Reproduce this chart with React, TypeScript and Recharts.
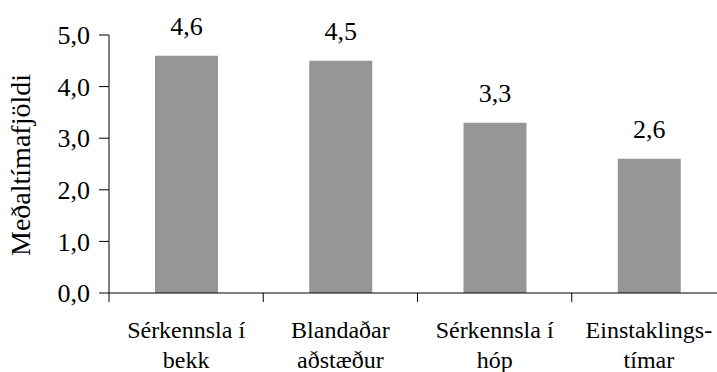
import { BarChart, Bar, XAxis, YAxis, LabelList } from "recharts";

const categoryLines = [
  ["Sérkennsla í", "bekk"],
  ["Blandaðar", "aðstæður"],
  ["Sérkennsla í", "hóp"],
  ["Einstaklings-", "tímar"],
];
const values = [4.6, 4.5, 3.3, 2.6];
const yTicks = [0, 1, 2, 3, 4, 5];
const yLabel = "Meðaltímafjöldi";

const FONT = "Liberation Serif, Tinos, Times New Roman, DejaVu Serif, serif";

const CHART = {
  width: 726,
  height: 372,
  margin: { top: 35, right: 0, bottom: 0, left: 9 },
  yAxisWidth: 100,
  xAxisHeight: 79,
};

const plotWidth =
  CHART.width - CHART.margin.left - CHART.margin.right - CHART.yAxisWidth;
const bandWidth = plotWidth / categoryLines.length;

const data = categoryLines.map((lines, i) => ({
  name: lines.join(" "),
  value: values[i],
}));

const comma = (v: number) => Number(v).toFixed(1).replace(".", ",");

function CategoryTick(props: any) {
  const { x, y, index } = props;
  const lines = categoryLines[index] ?? [];
  const left = x - bandWidth / 2;
  return (
    <g>
      <line x1={left} y1={y} x2={left} y2={y + 9} stroke="#000" />
      <text
        x={x}
        textAnchor="middle"
        fontSize={24}
        fill="#000"
        style={{ fontFamily: FONT }}
      >
        {lines.map((l, i) => (
          <tspan key={i} x={x} y={y + 45 + i * 30}>
            {l}
          </tspan>
        ))}
      </text>
    </g>
  );
}

export default function App() {
  return (
    <div
      style={{
        position: "absolute",
        left: 0,
        top: 0,
        width: 717,
        height: 372,
        overflow: "hidden",
        background: "#fff",
        fontFamily: FONT,
      }}
    >
      <BarChart
        width={CHART.width}
        height={CHART.height}
        data={data}
        margin={CHART.margin}
        style={{ fontFamily: FONT }}
      >
        <XAxis
          dataKey="name"
          height={CHART.xAxisHeight}
          interval={0}
          tickSize={0}
          tickMargin={0}
          tickLine={false}
          axisLine={{ stroke: "#000" }}
          tick={<CategoryTick />}
        />
        <YAxis
          width={CHART.yAxisWidth}
          domain={[0, 5]}
          ticks={yTicks}
          interval={0}
          tickFormatter={comma}
          tickSize={10}
          tickMargin={9}
          axisLine={{ stroke: "#000" }}
          tickLine={{ stroke: "#000" }}
          tick={{ fill: "#000", fontSize: 26, style: { fontFamily: FONT } }}
          label={{
            content: () => (
              <text
                x={30}
                y={165}
                transform="rotate(-90 30 165)"
                textAnchor="middle"
                fontSize={28}
                fill="#000"
                style={{ fontFamily: FONT }}
              >
                {yLabel}
              </text>
            ),
          }}
        />
        <Bar dataKey="value" fill="#969696" barSize={63} isAnimationActive={false}>
          <LabelList
            dataKey="value"
            position="top"
            offset={21}
            formatter={(v: any) => comma(v)}
            fill="#000"
            fontSize={26}
            style={{ fontFamily: FONT }}
          />
        </Bar>
      </BarChart>
    </div>
  );
}
